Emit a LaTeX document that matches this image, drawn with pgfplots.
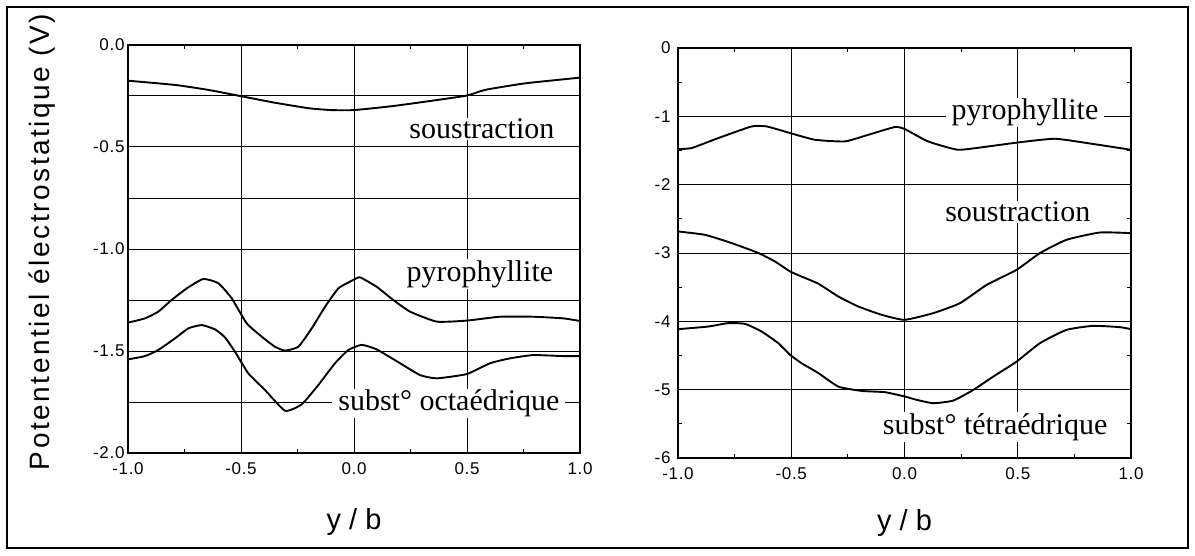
\documentclass[border=0pt]{standalone}
\usepackage{fontspec}
\setmainfont{Liberation Serif}
\newfontfamily\tickfont[LetterSpace=4]{Liberation Sans}
\newfontfamily\labfont[LetterSpace=9]{Liberation Sans}
\newfontfamily\xlabfont{Liberation Sans}
\usepackage{pgfplots}
\pgfplotsset{compat=1.18}

\pgfplotstableread{
x y
-1.000 -0.175
-0.790 -0.196
-0.645 -0.220
-0.504 -0.250
-0.350 -0.283
-0.200 -0.310
-0.100 -0.319
0.000 -0.319
0.167 -0.300
0.314 -0.278
0.499 -0.248
0.580 -0.220
0.757 -0.188
1.000 -0.160
}\Lsous

\pgfplotstableread{
x y
-1.000 -1.361
-0.925 -1.340
-0.866 -1.307
-0.807 -1.250
-0.740 -1.193
-0.667 -1.147
-0.600 -1.168
-0.541 -1.242
-0.475 -1.364
-0.408 -1.430
-0.350 -1.479
-0.305 -1.498
-0.246 -1.479
-0.187 -1.389
-0.128 -1.283
-0.069 -1.193
-0.003 -1.152
0.027 -1.139
0.100 -1.185
0.174 -1.250
0.248 -1.307
0.366 -1.356
0.499 -1.351
0.646 -1.332
0.793 -1.332
0.926 -1.340
1.000 -1.353
}\Lpyro

\pgfplotstableread{
x y
-1.000 -1.541
-0.925 -1.525
-0.866 -1.495
-0.792 -1.438
-0.733 -1.389
-0.674 -1.373
-0.615 -1.394
-0.571 -1.433
-0.527 -1.503
-0.468 -1.609
-0.394 -1.691
-0.305 -1.793
-0.231 -1.761
-0.158 -1.667
-0.084 -1.560
-0.025 -1.495
0.034 -1.470
0.100 -1.492
0.204 -1.560
0.292 -1.618
0.366 -1.634
0.499 -1.613
0.602 -1.560
0.690 -1.536
0.793 -1.520
0.926 -1.525
1.000 -1.525
}\Locta

\pgfplotstableread{
x y
-1.000 -1.479
-0.940 -1.464
-0.822 -1.318
-0.675 -1.148
-0.608 -1.148
-0.505 -1.245
-0.395 -1.343
-0.263 -1.367
-0.160 -1.270
-0.043 -1.157
0.001 -1.186
0.104 -1.367
0.236 -1.489
0.370 -1.440
0.502 -1.382
0.664 -1.328
0.826 -1.401
1.000 -1.489
}\Rpyro

\pgfplotstableread{
x y
-1.000 -2.685
-0.881 -2.734
-0.763 -2.855
-0.645 -3.000
-0.572 -3.124
-0.505 -3.270
-0.455 -3.344
-0.380 -3.450
-0.292 -3.637
-0.204 -3.783
-0.100 -3.905
0.000 -3.978
0.127 -3.880
0.245 -3.734
0.363 -3.466
0.495 -3.246
0.598 -3.001
0.715 -2.807
0.862 -2.700
1.000 -2.709
}\Rsous

\pgfplotstableread{
x y
-1.000 -4.115
-0.866 -4.076
-0.778 -4.026
-0.704 -4.037
-0.631 -4.149
-0.557 -4.320
-0.505 -4.490
-0.455 -4.612
-0.380 -4.758
-0.292 -4.955
-0.190 -5.018
-0.086 -5.037
0.001 -5.100
0.054 -5.149
0.127 -5.198
0.215 -5.160
0.304 -5.003
0.392 -4.808
0.495 -4.589
0.598 -4.319
0.715 -4.125
0.833 -4.066
0.951 -4.085
1.000 -4.115
}\Rtetra

\pgfplotsset{common/.style={
  scale only axis, anchor=south west,
  xmin=-1, xmax=1,
  xtick={-1,-0.5,0,0.5,1},
  xticklabels={-1.0,-0.5,0.0,0.5,1.0},
  minor x tick num=1,
  xmajorgrids, ymajorgrids,
  major grid style={black, line width=1.0pt},
  minor grid style={black, line width=1.0pt},
  axis line style={black, line width=1.5pt},
  tick align=inside,
  tick pos=both,
  tick style={black, line width=1pt},
  major tick length=4pt, minor tick length=4pt,
  ticklabel style={font=\tickfont\fontsize{17}{19}\selectfont},
  xticklabel style={yshift=-6pt},
  xlabel={y / b},
},
curve/.style={black, line width=1.9pt, mark=none, smooth, tension=0.3}}
\tikzset{annot/.style={fill=white, inner xsep=6pt, inner ysep=1pt, font=\fontsize{30}{34}\selectfont}}

\begin{document}
\begin{tikzpicture}[x=1pt,y=1pt]
\path (0,0) rectangle (1195,555);
\draw[line width=1.8pt] (7,7) rectangle (1188,548);

\begin{axis}[common,
  at={(128pt,102pt)}, width=452pt, height=408pt,
  ymin=-2, ymax=0,
  ytick={-2,-1.5,-1,-0.5,0},
  yticklabels={-2.0,-1.5,-1.0,-0.5,0.0},
  minor y tick num=1, yminorgrids,
  xlabel style={font=\xlabfont\fontsize{29}{32}\selectfont, at={(axis description cs:0.5,-0.17)}, anchor=center},
  ylabel={Potententiel électrostatique (V)},
  ylabel style={font=\labfont\fontsize{28}{30}\selectfont, at={(axis description cs:-0.19,0.517)}, anchor=center},
]
\addplot[curve] table {\Lsous};
\addplot[curve] table {\Lpyro};
\addplot[curve] table {\Locta};
\node[annot] at (axis cs:0.566,-0.412) {soustraction};
\node[annot] at (axis cs:0.557,-1.123) {pyrophyllite};
\node[annot] at (axis cs:0.42,-1.757) {subst° octaédrique};
\end{axis}

\begin{axis}[common,
  at={(678pt,97pt)}, width=453pt, height=410pt,
  ymin=-6, ymax=0,
  ytick={-6,-5,-4,-3,-2,-1,0},
  yticklabels={-6,-5,-4,-3,-2,-1,0},
  minor y tick num=1,
  yticklabel style={xshift=-4pt},
  xlabel style={font=\xlabfont\fontsize{29}{32}\selectfont, at={(axis description cs:0.5,-0.158)}, anchor=center},
]
\addplot[curve] table {\Rpyro};
\addplot[curve] table {\Rsous};
\addplot[curve] table {\Rtetra};
\node[annot] at (axis cs:0.532,-0.947) {pyrophyllite};
\node[annot] at (axis cs:0.50,-2.40) {soustraction};
\node[annot] at (axis cs:0.40,-5.545) {subst° tétraédrique};
\end{axis}
\end{tikzpicture}
\end{document}
